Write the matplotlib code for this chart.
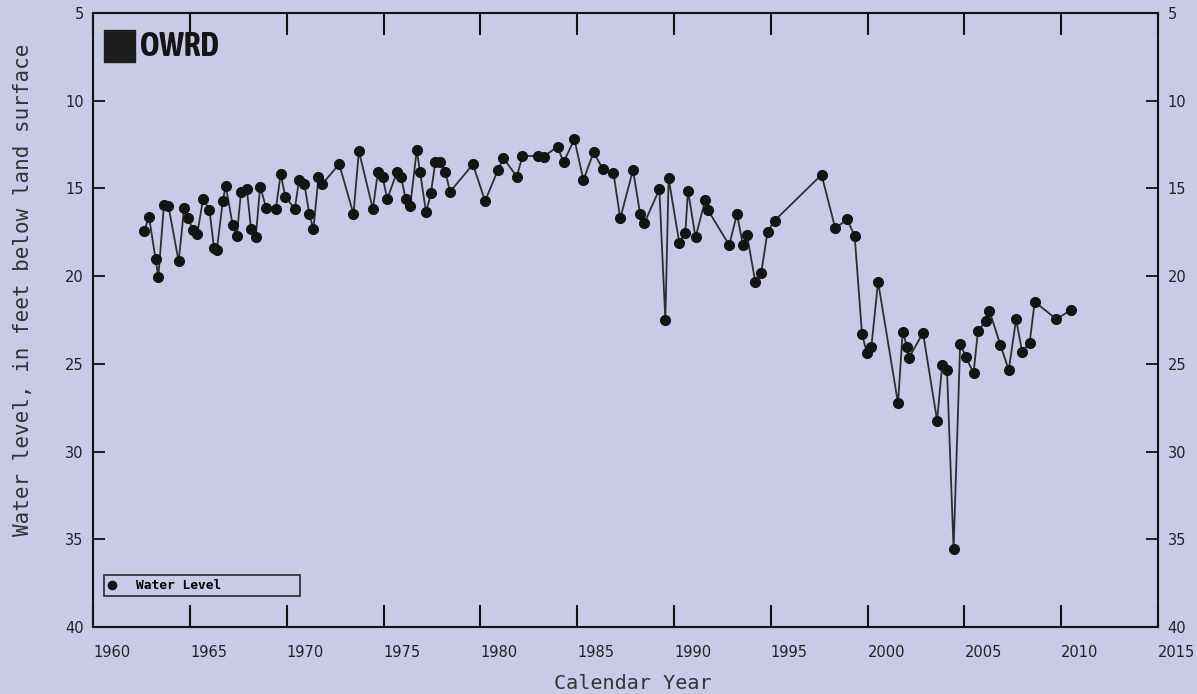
import matplotlib
matplotlib.use("Agg")
import matplotlib.pyplot as plt
from matplotlib.patches import Rectangle
from matplotlib import font_manager

# ---- data ----
years = [1962.62, 1962.88, 1963.22, 1963.36, 1963.65, 1963.88, 1964.41, 1964.69, 1964.88,
         1965.17, 1965.37, 1965.67, 1966.00, 1966.24, 1966.38, 1966.69, 1966.84, 1967.20,
         1967.41, 1967.63, 1967.93, 1968.15, 1968.39, 1968.62, 1968.93, 1969.43, 1969.68,
         1969.92, 1970.41, 1970.63, 1970.90, 1971.16, 1971.37, 1971.63, 1971.83, 1972.70,
         1973.44, 1973.72, 1974.44, 1974.70, 1974.94, 1975.19, 1975.68, 1975.89, 1976.14,
         1976.37, 1976.71, 1976.88, 1977.19, 1977.44, 1977.67, 1977.92, 1978.19, 1978.43,
         1979.61, 1980.24, 1980.90, 1981.19, 1981.88, 1982.17, 1982.99, 1983.26, 1983.98,
         1984.29, 1984.85, 1985.32, 1985.84, 1986.33, 1986.87, 1987.22, 1987.88, 1988.25,
         1988.46, 1989.24, 1989.55, 1989.72, 1990.27, 1990.58, 1990.72, 1991.11, 1991.61,
         1991.75, 1992.85, 1993.25, 1993.56, 1993.77, 1994.20, 1994.50, 1994.83, 1995.19,
         1997.62, 1998.33, 1998.94, 1999.33, 1999.71, 1999.97, 2000.19, 2000.54, 2001.57,
         2001.81, 2002.04, 2002.12, 2002.86, 2003.59, 2003.85, 2004.10, 2004.44, 2004.78,
         2005.09, 2005.47, 2005.70, 2006.12, 2006.29, 2006.86, 2007.29, 2007.67, 2007.98,
         2008.37, 2008.63, 2009.75, 2010.51]
water_level = [17.41, 16.65, 19.04, 20.03, 15.95, 16.00, 19.16, 16.14, 16.71,
               17.37, 17.60, 15.60, 16.23, 18.42, 18.51, 15.72, 14.85, 17.09,
               17.71, 15.22, 15.03, 17.33, 17.79, 14.90, 16.12, 16.17, 14.18,
               15.47, 16.17, 14.52, 14.75, 16.46, 17.33, 14.37, 14.75, 13.61,
               16.46, 12.87, 16.17, 14.08, 14.37, 15.60, 14.08, 14.33, 15.60,
               16.00, 12.81, 14.08, 16.36, 15.28, 13.48, 13.48, 14.08, 15.19,
               13.63, 15.72, 13.95, 13.28, 14.33, 13.15, 13.15, 13.19, 12.62,
               13.51, 12.20, 14.52, 12.94, 13.91, 14.10, 16.71, 13.95, 16.46,
               16.99, 15.05, 22.50, 14.43, 18.09, 17.56, 15.13, 17.79, 15.66,
               16.23, 18.23, 16.46, 18.23, 17.66, 20.35, 19.84, 17.47, 16.84,
               14.22, 17.28, 16.76, 17.71, 23.32, 24.40, 24.06, 20.32, 27.25,
               23.17, 24.03, 24.69, 23.23, 28.24, 25.07, 25.35, 35.58, 23.87,
               24.63, 25.54, 23.13, 22.54, 21.97, 23.93, 25.35, 22.46, 24.31,
               23.80, 21.46, 22.45, 21.93]

x_ticks = [1960, 1965, 1970, 1975, 1980, 1985, 1990, 1995, 2000, 2005, 2010, 2015]
y_ticks = [5, 10, 15, 20, 25, 30, 35, 40]

series_label = "Water Level"
x_title = "Calendar Year"
y_title = "Water level, in feet below land surface"
logo_text = "OWRD"

# ---- style ----
bg = "#c9cae6"
W, H = 1197, 694
fig = plt.figure(figsize=(W / 100, H / 100), dpi=100, facecolor=bg)
L, R, T, B = 93.3, 1158.0, 13.0, 627.0
ax = fig.add_axes([L / W, 1 - B / H, (R - L) / W, (B - T) / H])
ax.set_facecolor(bg)

ax.plot(years, water_level, color="#2e2e2e", lw=1.3, marker="o", ms=7,
        mfc="#141414", mec="#141414", label=series_label, zorder=3)

ax.set_xlim(1960, 2015)
ax.set_ylim(40, 5)
ax.set_xticks(x_ticks)
ax.set_yticks(y_ticks)
ax.set_xticklabels([str(v) for v in x_ticks], ha="left")
ax.set_yticklabels([str(v) for v in y_ticks])

for s in ax.spines.values():
    s.set_color("#111111")
    s.set_linewidth(1.5)

ax.tick_params(axis="x", which="major", direction="in", length=16, width=1.5,
               top=True, bottom=True, pad=13, color="#111111",
               labelsize=10.5, labelcolor="#222222")
ax.tick_params(axis="y", which="major", direction="in", length=8.5, width=1.3,
               left=True, right=True, labelleft=True, labelright=True, pad=7,
               color="#111111", labelsize=10.5, labelcolor="#222222")

mono = "DejaVu Sans Mono"
ax.set_xlabel(x_title, fontfamily=mono, fontsize=14.5, color="#333333")
ax.xaxis.set_label_coords((633 - L) / (R - L), -(674 - B) / (B - T))
ax.set_ylabel(y_title, fontfamily=mono, fontsize=15, color="#333333")
ax.yaxis.set_label_coords(-(93.3 - 33) / (R - L), 1 - (290 - T) / (B - T))

# legend box
leg = ax.legend(loc="lower left",
                bbox_to_anchor=((104 - L) / (R - L), 1 - (596 - T) / (B - T),
                                (300 - 104) / (R - L), (596 - 571) / (B - T)),
                mode="expand", borderaxespad=0, frameon=True, fancybox=False,
                edgecolor="#111111", facecolor="none", handlelength=0.6,
                handletextpad=1.6, borderpad=0.3, markerscale=0.85,
                prop={"family": mono, "weight": "bold", "size": 9.3})
leg.get_frame().set_linewidth(1.3)
leg._legend_box.align = "left"
for h in leg.legend_handles:
    h.set_linestyle("none")

# logo: pick a condensed/narrow bold face if one is installed
logo_prop = None
for f in font_manager.fontManager.ttflist:
    nm = f.name.lower()
    if ("condensed" in nm or "narrow" in nm) and str(f.weight) in ("bold", "700"):
        logo_prop = font_manager.FontProperties(fname=f.fname, size=24)
        break
if logo_prop is None:
    logo_prop = font_manager.FontProperties(family="Roboto", weight="bold", size=22)

ax.add_patch(Rectangle(((104 - L) / (R - L), 1 - (62 - T) / (B - T)),
                       (135 - 104) / (R - L), (62 - 30) / (B - T),
                       transform=ax.transAxes, color="#1e1e1e", zorder=4))
ax.text((140 - L) / (R - L), 1 - (47 - T) / (B - T), logo_text,
        transform=ax.transAxes, fontproperties=logo_prop, color="#151515",
        va="center", ha="left")

fig.savefig("out.png", dpi=100, facecolor=bg)
